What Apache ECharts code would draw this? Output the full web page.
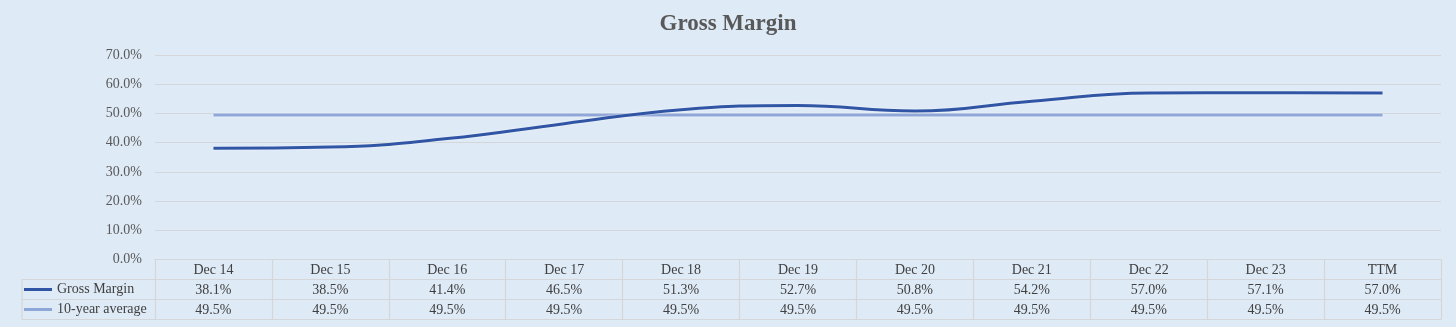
<!DOCTYPE html>
<html>
<head>
<meta charset="utf-8">
<script src="https://cdn.jsdelivr.net/npm/echarts@6/dist/echarts.min.js"></script>
<style>
html,body{margin:0;padding:0;background:#DEEAF6;}
#c{width:1456px;height:327px;}
</style>
</head>
<body>
<div id="c"></div>
<script>
const categories = ['Dec 14','Dec 15','Dec 16','Dec 17','Dec 18','Dec 19','Dec 20','Dec 21','Dec 22','Dec 23','TTM'];
const grossMargin = [38.1, 38.5, 41.4, 46.5, 51.3, 52.7, 50.8, 54.2, 57.0, 57.1, 57.0];
const tenYearAvg = [49.5, 49.5, 49.5, 49.5, 49.5, 49.5, 49.5, 49.5, 49.5, 49.5, 49.5];
const seriesNames = ['Gross Margin', '10-year average'];
const yTicks = {min: 0, max: 70, interval: 10};

const FONT = "'Liberation Serif','Times New Roman',serif";
const gridLine = '#D4D6D9';
const textCol = '#404040';
const pct = v => v.toFixed(1) + '%';

const chart = echarts.init(document.getElementById('c'));

function tableAxis(offset, arr) {
  return {
    type: 'category', data: categories, position: 'bottom', offset: offset, gridIndex: 0,
    axisLine: {show: true, lineStyle: {color: gridLine, width: 1.2}},
    axisTick: {show: false},
    axisLabel: arr ? {show: true, margin: 4, fontFamily: FONT, fontSize: 14, color: textCol,
      formatter: (v, i) => pct(arr[i])} : {show: false},
    splitLine: {show: false}
  };
}

chart.setOption({
  backgroundColor: '#DEEAF6',
  animation: false,
  title: {
    text: 'Gross Margin', left: 'center', top: 8,
    textStyle: {fontFamily: FONT, fontSize: 23, fontWeight: 'bold', color: '#595959'}
  },
  legend: {
    orient: 'vertical', left: 24, top: 279.5, itemGap: 0,
    itemWidth: 28, itemHeight: 3, icon: 'rect',
    data: seriesNames,
    textStyle: {fontFamily: FONT, fontSize: 14, color: textCol, lineHeight: 20, padding: [0,0,0,0]},
    padding: 0
  },
  grid: {left: 155, right: 15, top: 55, bottom: 67.5},
  xAxis: [
    {
      type: 'category', data: categories, position: 'bottom', gridIndex: 0,
      axisLine: {show: true, lineStyle: {color: gridLine, width: 1.2}},
      axisTick: {show: true, alignWithLabel: false, interval: 0, inside: false, length: 60,
        lineStyle: {color: gridLine, width: 1.2}},
      axisLabel: {margin: 4, fontFamily: FONT, fontSize: 14, color: textCol, interval: 0}
    },
    tableAxis(20, grossMargin),
    tableAxis(40, tenYearAvg),
    tableAxis(60, null)
  ],
  yAxis: {
    type: 'value', min: yTicks.min, max: yTicks.max, interval: yTicks.interval,
    axisLine: {show: false}, axisTick: {show: false},
    axisLabel: {margin: 13, fontFamily: FONT, fontSize: 14, color: '#595959', formatter: v => pct(v)},
    splitLine: {lineStyle: {color: gridLine, width: 1.2}}
  },
  graphic: [
    {type: 'line', shape: {x1: 22, y1: 279.5, x2: 155, y2: 279.5}, style: {stroke: gridLine, lineWidth: 1.2}},
    {type: 'line', shape: {x1: 22, y1: 299.5, x2: 155, y2: 299.5}, style: {stroke: gridLine, lineWidth: 1.2}},
    {type: 'line', shape: {x1: 22, y1: 319.5, x2: 155, y2: 319.5}, style: {stroke: gridLine, lineWidth: 1.2}},
    {type: 'line', shape: {x1: 22, y1: 279.5, x2: 22, y2: 319.5}, style: {stroke: gridLine, lineWidth: 1.2}}
  ],
  series: [
    {
      name: seriesNames[0], type: 'line', xAxisIndex: 0, data: grossMargin, smooth: 0.45,
      symbol: 'none', z: 3,
      lineStyle: {color: '#2F55A4', width: 3, shadowColor: 'rgba(255,255,255,0.9)', shadowBlur: 2},
      itemStyle: {color: '#2F55A4'}
    },
    {
      name: seriesNames[1], type: 'line', xAxisIndex: 0, data: tenYearAvg, smooth: true,
      symbol: 'none', z: 2,
      lineStyle: {color: '#8EA6D8', width: 3, shadowColor: 'rgba(255,255,255,0.9)', shadowBlur: 2},
      itemStyle: {color: '#8EA6D8'}
    }
  ]
});
</script>
</body>
</html>
